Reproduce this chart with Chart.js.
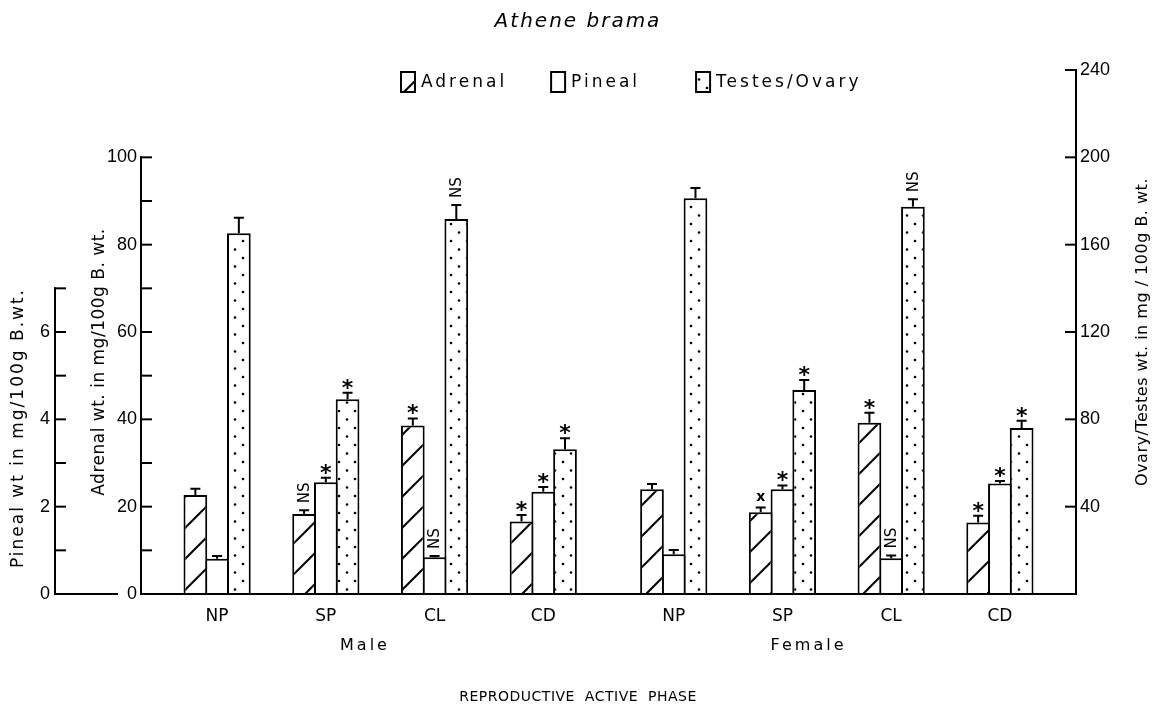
<!DOCTYPE html>
<html>
<head>
<meta charset="utf-8">
<script src="https://cdn.jsdelivr.net/npm/chart.js@4.4.1/dist/chart.umd.min.js"></script>
<style>
  html, body { margin: 0; padding: 0; background: #fff; }
  #wrap { width: 1156px; height: 708px; }
</style>
</head>
<body>
<div id="wrap"><canvas id="grafico"></canvas></div>
<script>
// valores (Athene brama)
const fases = ['NP', 'SP', 'CL', 'CD', 'NP', 'SP', 'CL', 'CD'];
const sexos = ['Male', 'Female'];
const adrenal = [22.7, 18.3, 38.6, 16.6, 24.0, 18.7, 39.2, 16.4];
const adrenalErr = [1.4, 0.9, 1.6, 1.5, 1.2, 1.1, 2.3, 1.5];
const pineal = [0.81, 2.56, 0.84, 2.34, 0.91, 2.40, 0.82, 2.53];
const pinealErr = [0.06, 0.10, 0.03, 0.11, 0.10, 0.085, 0.06, 0.06];
const gonada = [165.2, 89.2, 171.8, 66.3, 181.3, 93.4, 177.4, 76.0];
const gonadaErr = [7.1, 3.0, 6.4, 5.0, 4.6, 4.6, 3.4, 3.3];
const sigAdrenal = ['', 'NS', '*', '*', '', 'x', '*', '*'];
const sigPineal = ['', '*', 'NS', '*', '', '*', 'NS', '*'];
const sigGonada = ['', '*', 'NS', '*', '', '*', 'NS', '*'];
const pinealTicks = [0, 1, 2, 3, 4, 5, 6, 7];
const pinealLabels = [0, 2, 4, 6];
const adrenalTicks = [0, 10, 20, 30, 40, 50, 60, 70, 80, 90, 100];
const adrenalLabels = [0, 20, 40, 60, 80, 100];
const gonadaTicks = [40, 80, 120, 160, 200, 240];

const fonte = "'DejaVu Sans', sans-serif";
const fonteNum = "'Liberation Sans', sans-serif";
const canvas = document.getElementById('grafico');
const ctx = canvas.getContext('2d');

// cada barra ocupa uma "vaga" da escala de categorias
const nVagas = 43;
const vaga = (g, s) => 2 + g * 5 + (g >= 4 ? 1 : 0) + s;
const rotulosX = Array.from({ length: nVagas }, () => '');
fases.forEach((f, g) => { rotulosX[vaga(g, 1)] = f; });

function porVaga(valores, s) {
  const arr = new Array(nVagas).fill(null);
  valores.forEach((v, g) => { arr[vaga(g, s)] = v; });
  return arr;
}

function hachura() {
  const t = document.createElement('canvas');
  t.width = 31; t.height = 31;
  const g = t.getContext('2d');
  g.fillStyle = '#fff'; g.fillRect(0, 0, 31, 31);
  g.strokeStyle = '#000'; g.lineWidth = 2;
  [-31, 0, 31].forEach(k => {
    g.beginPath(); g.moveTo(-2 + k, 33); g.lineTo(33 + k, -2); g.stroke();
  });
  return ctx.createPattern(t, 'repeat');
}

function pontos() {
  const t = document.createElement('canvas');
  t.width = 16; t.height = 17;
  const g = t.getContext('2d');
  g.fillStyle = '#fff'; g.fillRect(0, 0, 16, 17);
  g.fillStyle = '#000';
  [[3, 3], [11, 11.5]].forEach(([x, y]) => {
    g.beginPath(); g.arc(x, y, 1.3, 0, Math.PI * 2); g.fill();
  });
  return ctx.createPattern(t, 'repeat');
}

const series = [
  { label: 'Adrenal', dados: adrenal, err: adrenalErr, sig: sigAdrenal, eixo: 'y', fundo: hachura() },
  { label: 'Pineal', dados: pineal, err: pinealErr, sig: sigPineal, eixo: 'yp', fundo: '#fff' },
  { label: 'Testes/Ovary', dados: gonada, err: gonadaErr, sig: sigGonada, eixo: 'yo', fundo: pontos() }
];

const extras = {
  id: 'extras',
  afterDatasetsDraw(chart) {
    const c = chart.ctx;
    c.save();
    c.strokeStyle = '#000'; c.fillStyle = '#000'; c.lineWidth = 2;
    series.forEach((sr, i) => {
      const meta = chart.getDatasetMeta(i);
      const esc = chart.scales[sr.eixo];
      sr.dados.forEach((v, g) => {
        const bar = meta.data[vaga(g, i)];
        const yTopo = esc.getPixelForValue(v + sr.err[g]);
        c.beginPath();
        c.moveTo(bar.x, bar.y); c.lineTo(bar.x, yTopo);
        c.moveTo(bar.x - 5, yTopo); c.lineTo(bar.x + 5, yTopo);
        c.stroke();
        const s = sr.sig[g];
        if (s === '*') {
          c.font = 'bold 22px ' + fonte;
          c.textAlign = 'center'; c.textBaseline = 'alphabetic';
          c.fillText('*', bar.x, yTopo + 2);
        } else if (s === 'x') {
          c.font = 'bold 14px ' + fonte;
          c.textAlign = 'center'; c.textBaseline = 'alphabetic';
          c.fillText('x', bar.x, yTopo - 7);
        } else if (s === 'NS') {
          c.save();
          c.translate(bar.x + 1, yTopo - 7);
          c.rotate(-Math.PI / 2);
          c.font = '15px ' + fonte;
          c.textAlign = 'left'; c.textBaseline = 'middle';
          c.fillText('NS', 0, 0);
          c.restore();
        }
      });
    });
    c.restore();
  },
  afterDraw(chart) {
    const c = chart.ctx, a = chart.chartArea;
    c.save();
    c.strokeStyle = '#000'; c.fillStyle = '#000'; c.lineWidth = 2; c.lineCap = 'square';
    // eixos verticais com tiques para dentro
    [['yp', 1], ['y', 1], ['yo', -1]].forEach(([id, dir]) => {
      const s = chart.scales[id];
      const x = dir > 0 ? s.right : s.left;
      const vals = s.ticks.map(t => t.value);
      c.beginPath();
      c.moveTo(x, s.getPixelForValue(0));
      c.lineTo(x, s.getPixelForValue(Math.max(...vals)));
      c.stroke();
      vals.forEach(v => {
        const y = s.getPixelForValue(v);
        c.beginPath(); c.moveTo(x, y); c.lineTo(x + dir * 10, y); c.stroke();
      });
    });
    // linha de base
    const yp = chart.scales.yp;
    c.beginPath();
    c.moveTo(yp.right, a.bottom); c.lineTo(yp.right + 62, a.bottom);
    c.moveTo(a.left, a.bottom); c.lineTo(a.right, a.bottom);
    c.stroke();
    c.lineCap = 'butt';

    // titulo
    c.textAlign = 'center'; c.textBaseline = 'middle';
    c.font = 'italic 20px ' + fonte;
    c.letterSpacing = '2px';
    c.fillText('Athene brama', chart.width / 2, 22);

    // legenda
    c.font = '17px ' + fonte;
    c.letterSpacing = '3px';
    const vaos = [44, 56];
    let xl = 401;
    c.textAlign = 'left';
    series.forEach((sr, i) => {
      c.fillStyle = sr.fundo;
      c.fillRect(xl, 72, 14, 20);
      c.strokeRect(xl, 72, 14, 20);
      c.fillStyle = '#000';
      c.fillText(sr.label, xl + 20, 83);
      xl += 20 + c.measureText(sr.label).width + (vaos[i] || 0);
    });

    // Male / Female
    const xs = chart.scales.x;
    const deslocSexo = [1.8, 1.2];
    c.textAlign = 'center';
    c.font = '16px ' + fonte;
    c.letterSpacing = '3px';
    sexos.forEach((sx, k) => {
      c.fillText(sx, xs.getPixelForValue(vaga(k * 4 + 1, 1) + deslocSexo[k]), 646);
    });
    // titulo do eixo x
    c.font = '14px ' + fonte;
    c.letterSpacing = '0.5px';
    c.fillText('REPRODUCTIVE  ACTIVE  PHASE', chart.width / 2, 697);

    // titulos dos eixos y (girados)
    const vertical = (txt, x, y) => {
      c.save(); c.translate(x, y); c.rotate(-Math.PI / 2);
      c.fillText(txt, 0, 0); c.restore();
    };
    c.font = '17px ' + fonte;
    c.letterSpacing = '2px';
    vertical('Pineal wt in mg/100g B.wt.', 19, 428);
    c.letterSpacing = '0.5px';
    vertical('Adrenal wt. in mg/100g B. wt.', 100, 362);
    c.font = '16px ' + fonte;
    vertical('Ovary/Testes wt. in mg / 100g B. wt.', 1143, 332);
    c.letterSpacing = '0px';
    c.restore();
  }
};

new Chart(ctx, {
  type: 'bar',
  data: {
    labels: rotulosX,
    datasets: series.map(sr => ({
      label: sr.label,
      data: porVaga(sr.dados, series.indexOf(sr)),
      yAxisID: sr.eixo,
      backgroundColor: sr.fundo,
      borderColor: '#000',
      borderWidth: 2,
      borderSkipped: 'start',
      grouped: false,
      barPercentage: 1.09,
      categoryPercentage: 1
    }))
  },
  options: {
    responsive: true,
    maintainAspectRatio: false,
    animation: false,
    layout: { padding: { top: 70 } },
    plugins: {
      title: { display: false },
      legend: { display: false },
      tooltip: { enabled: false }
    },
    scales: {
      x: {
        type: 'category',
        grid: { display: false, drawTicks: false },
        border: { display: false },
        ticks: {
          autoSkip: false, maxRotation: 0, padding: 12, color: '#000',
          font: { family: fonte, size: 17 }
        },
        afterFit: s => { s.height = 114; }
      },
      yp: {
        position: 'left',
        weight: 1,
        min: 0, max: 12,
        grid: { drawOnChartArea: false, drawTicks: false },
        border: { display: false },
        afterBuildTicks: s => { s.ticks = pinealTicks.map(v => ({ value: v })); },
        ticks: {
          padding: 5, color: '#000', font: { family: fonteNum, size: 18 },
          callback: v => pinealLabels.includes(v) ? String(v) : ''
        },
        afterFit: s => { s.width = 55; }
      },
      y: {
        position: 'left',
        weight: 0,
        min: 0, max: 120,
        grid: { drawOnChartArea: false, drawTicks: false },
        border: { display: false },
        afterBuildTicks: s => { s.ticks = adrenalTicks.map(v => ({ value: v })); },
        ticks: {
          padding: 4, color: '#000', font: { family: fonteNum, size: 18 },
          callback: v => adrenalLabels.includes(v) ? String(v) : ''
        },
        afterFit: s => { s.width = 86; }
      },
      yo: {
        position: 'right',
        min: 0, max: 240,
        grid: { drawOnChartArea: false, drawTicks: false },
        border: { display: false },
        afterBuildTicks: s => { s.ticks = gonadaTicks.map(v => ({ value: v })); },
        ticks: {
          padding: 4, color: '#000', font: { family: fonteNum, size: 18 }
        },
        afterFit: s => { s.width = 80; }
      }
    }
  },
  plugins: [extras]
});
</script>
</body>
</html>
